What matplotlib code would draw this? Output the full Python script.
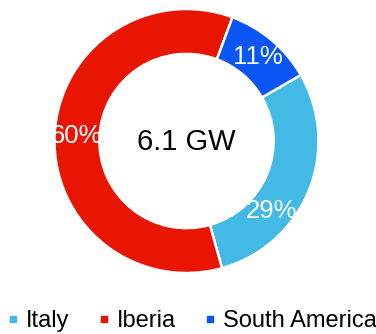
import numpy as np
import matplotlib
matplotlib.use('Agg')
import matplotlib.pyplot as plt
from matplotlib.lines import Line2D

plt.rcParams['font.family'] = ['Liberation Sans', 'DejaVu Sans']

# --- data ---
regions = ['Italy', 'Iberia', 'South America']
shares = [29, 60, 11]
colors = ['#43B9E6', '#E81502', '#0A56F5']
total_label = '6.1 GW'

# label nudges (degrees) so the text sits like in the original
label_shift = [-17.5, 0, 0]

fig = plt.figure(figsize=(3.76, 3.34), dpi=100)
ax = fig.add_axes([54.5 / 376, 61 / 334, 264 / 376, 264 / 334])

wedges, _ = ax.pie(shares, colors=colors, startangle=30, counterclock=False,
                   radius=1, wedgeprops=dict(width=0.34, edgecolor='white', linewidth=1.8))
ax.set_xlim(-1, 1)
ax.set_ylim(-1, 1)
ax.set_aspect('equal')
ax.axis('off')

for w, s, d in zip(wedges, shares, label_shift):
    mid = np.deg2rad((w.theta1 + w.theta2) / 2 + d)
    r = 0.833
    ax.text(r * np.cos(mid), r * np.sin(mid), '%d%%' % s, color='white',
            fontsize=18.5, ha='center', va='center')

ax.text(0, -0.01, total_label, fontsize=21, ha='center', va='center', color='black')

handles = [Line2D([], [], marker='s', linestyle='', markersize=4.5,
                  markerfacecolor=c, markeredgecolor=c) for c in colors]
fig.legend(handles, regions, loc='center', bbox_to_anchor=(193 / 376, 1 - 321 / 334),
           ncol=3, frameon=False, fontsize=17, handlelength=0.3,
           handletextpad=0.4, columnspacing=1.3, borderpad=0, borderaxespad=0)

fig.savefig('out.png', dpi=100)
